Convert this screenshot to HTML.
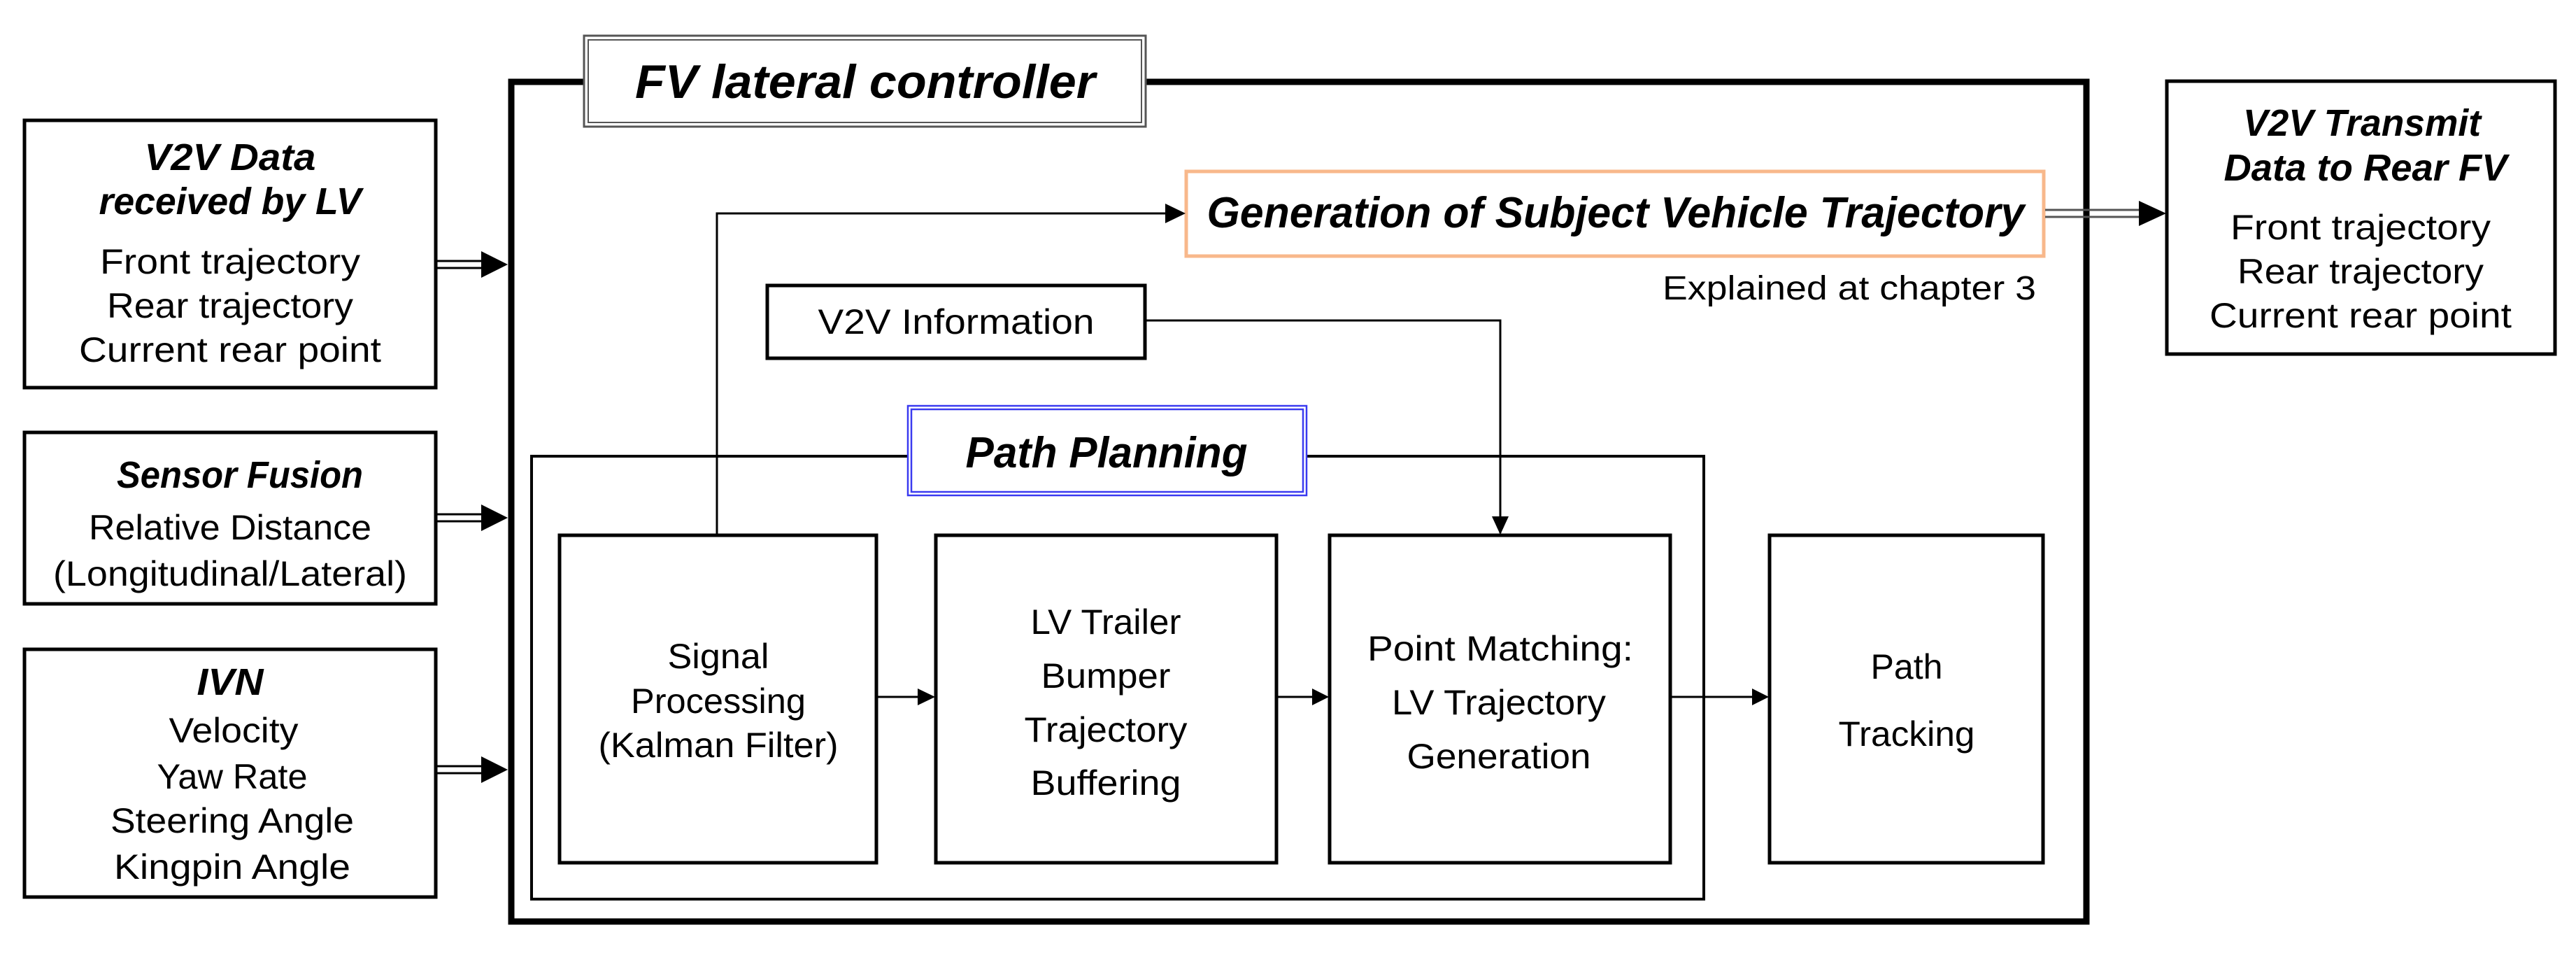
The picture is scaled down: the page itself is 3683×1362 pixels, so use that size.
<!DOCTYPE html>
<html><head><meta charset="utf-8"><style>
html,body{margin:0;padding:0;background:#fff;}
svg{display:block;}
text{font-family:"Liberation Sans","DejaVu Sans",sans-serif;fill:#000;}
.r{font-size:50px;}
.b{font-size:54px;font-weight:bold;font-style:italic;}
</style></head><body>
<svg width="3683" height="1362" viewBox="0 0 3683 1362" xmlns="http://www.w3.org/2000/svg">
<defs>
<marker id="ah" markerWidth="10" markerHeight="10" refX="9" refY="5" orient="auto" markerUnits="userSpaceOnUse" viewBox="0 0 10 10"><path d="M0,0 L10,5 L0,10 z" fill="#000"/></marker>
</defs>
<!-- outer controller -->
<rect x="731" y="117" width="2252" height="1200" fill="none" stroke="#000" stroke-width="9"/>
<!-- title box -->
<rect x="835" y="51" width="803" height="130" fill="#fff" stroke="#555" stroke-width="3"/>
<rect x="841" y="57" width="791" height="118" fill="none" stroke="#555" stroke-width="2"/>
<text class="b" x="1237" y="140" text-anchor="middle" font-size="68" style="font-size:68px" textLength="658" lengthAdjust="spacingAndGlyphs">FV lateral controller</text>

<!-- left boxes -->
<rect x="35" y="172" width="588" height="382" fill="none" stroke="#000" stroke-width="5"/>
<text class="b" x="329" y="243" text-anchor="middle" textLength="245" lengthAdjust="spacingAndGlyphs">V2V Data</text>
<text class="b" x="329" y="306" text-anchor="middle" textLength="375" lengthAdjust="spacingAndGlyphs">received by LV</text>
<text class="r" x="329" y="391" text-anchor="middle" textLength="372" lengthAdjust="spacingAndGlyphs">Front trajectory</text>
<text class="r" x="329" y="454" text-anchor="middle" textLength="352" lengthAdjust="spacingAndGlyphs">Rear trajectory</text>
<text class="r" x="329" y="517" text-anchor="middle" textLength="432" lengthAdjust="spacingAndGlyphs">Current rear point</text>

<rect x="35" y="618" width="588" height="245" fill="none" stroke="#000" stroke-width="5"/>
<text class="b" x="343" y="697" text-anchor="middle" textLength="352" lengthAdjust="spacingAndGlyphs">Sensor Fusion</text>
<text class="r" x="329" y="771" text-anchor="middle" textLength="404" lengthAdjust="spacingAndGlyphs">Relative Distance</text>
<text class="r" x="329" y="837" text-anchor="middle" textLength="506" lengthAdjust="spacingAndGlyphs">(Longitudinal/Lateral)</text>

<rect x="35" y="928" width="588" height="354" fill="none" stroke="#000" stroke-width="5"/>
<text class="b" x="329" y="993" text-anchor="middle" textLength="95" lengthAdjust="spacingAndGlyphs">IVN</text>
<text class="r" x="334" y="1061" text-anchor="middle" textLength="185" lengthAdjust="spacingAndGlyphs">Velocity</text>
<text class="r" x="332" y="1127" text-anchor="middle" textLength="215" lengthAdjust="spacingAndGlyphs">Yaw Rate</text>
<text class="r" x="332" y="1190" text-anchor="middle" textLength="348" lengthAdjust="spacingAndGlyphs">Steering Angle</text>
<text class="r" x="332" y="1256" text-anchor="middle" textLength="338" lengthAdjust="spacingAndGlyphs">Kingpin Angle</text>

<!-- double arrows in -->
<g stroke="#000" stroke-width="3">
<line x1="624" y1="373" x2="690" y2="373"/><line x1="624" y1="383" x2="690" y2="383"/>
<line x1="624" y1="735" x2="690" y2="735"/><line x1="624" y1="745" x2="690" y2="745"/>
<line x1="624" y1="1095" x2="690" y2="1095"/><line x1="624" y1="1105" x2="690" y2="1105"/>
</g>
<path d="M688,359 L726,378 L688,397 z" fill="#000"/>
<path d="M688,721 L726,740 L688,759 z" fill="#000"/>
<path d="M688,1081 L726,1100 L688,1119 z" fill="#000"/>

<!-- generation box -->
<rect x="1696" y="245" width="1226" height="121" fill="#fff" stroke="#f8b88b" stroke-width="5"/>
<text class="b" x="2310" y="325" text-anchor="middle" style="font-size:62px" textLength="1169" lengthAdjust="spacingAndGlyphs">Generation of Subject Vehicle Trajectory</text>
<text class="r" x="2911" y="428" text-anchor="end" style="font-size:48px" textLength="534" lengthAdjust="spacingAndGlyphs">Explained at chapter 3</text>

<!-- output double arrow -->
<g stroke="#555" stroke-width="3">
<line x1="2924" y1="300" x2="3060" y2="300"/><line x1="2924" y1="310" x2="3060" y2="310"/>
</g>
<path d="M3058,287 L3097,305 L3058,323 z" fill="#000"/>

<!-- right box -->
<rect x="3098" y="116" width="555" height="390" fill="none" stroke="#000" stroke-width="5"/>
<text class="b" x="3377" y="194" text-anchor="middle" textLength="340" lengthAdjust="spacingAndGlyphs">V2V Transmit</text>
<text class="b" x="3382" y="258" text-anchor="middle" textLength="405" lengthAdjust="spacingAndGlyphs">Data to Rear FV</text>
<text class="r" x="3375" y="342" text-anchor="middle" textLength="372" lengthAdjust="spacingAndGlyphs">Front trajectory</text>
<text class="r" x="3375" y="405" text-anchor="middle" textLength="352" lengthAdjust="spacingAndGlyphs">Rear trajectory</text>
<text class="r" x="3375" y="468" text-anchor="middle" textLength="432" lengthAdjust="spacingAndGlyphs">Current rear point</text>

<!-- V2V information -->
<rect x="1097" y="408" width="540" height="104" fill="none" stroke="#000" stroke-width="5"/>
<text class="r" x="1367" y="477" text-anchor="middle" textLength="395" lengthAdjust="spacingAndGlyphs">V2V Information</text>
<polyline points="1637,458 2145,458 2145,762" fill="none" stroke="#000" stroke-width="3" marker-end="url(#ah)"/>
<path d="M2133,738 L2145,764 L2157,738 z" fill="#000"/>

<!-- path planning -->
<rect x="760" y="652" width="1676" height="633" fill="none" stroke="#000" stroke-width="4"/>
<rect x="1298" y="580" width="570" height="128" fill="#fff" stroke="#3a3af0" stroke-width="2.5"/>
<rect x="1303" y="585" width="560" height="118" fill="none" stroke="#3a3af0" stroke-width="2.5"/>
<text class="b" x="1582" y="668" text-anchor="middle" style="font-size:62px" textLength="403" lengthAdjust="spacingAndGlyphs">Path Planning</text>

<!-- signal up arrow to generation -->
<polyline points="1025,764 1025,305 1670,305" fill="none" stroke="#000" stroke-width="3"/>
<path d="M1666,291 L1695,305 L1666,319 z" fill="#000"/>

<!-- inner boxes -->
<rect x="800" y="765" width="453" height="468" fill="#fff" stroke="#000" stroke-width="5"/>
<text class="r" x="1027" y="955" text-anchor="middle" textLength="145" lengthAdjust="spacingAndGlyphs">Signal</text>
<text class="r" x="1027" y="1019" text-anchor="middle" textLength="250" lengthAdjust="spacingAndGlyphs">Processing</text>
<text class="r" x="1027" y="1082" text-anchor="middle" textLength="343" lengthAdjust="spacingAndGlyphs">(Kalman Filter)</text>

<rect x="1338" y="765" width="487" height="468" fill="none" stroke="#000" stroke-width="5"/>
<text class="r" x="1581" y="906" text-anchor="middle" textLength="215" lengthAdjust="spacingAndGlyphs">LV Trailer</text>
<text class="r" x="1581" y="983" text-anchor="middle" textLength="185" lengthAdjust="spacingAndGlyphs">Bumper</text>
<text class="r" x="1581" y="1060" text-anchor="middle" textLength="233" lengthAdjust="spacingAndGlyphs">Trajectory</text>
<text class="r" x="1581" y="1136" text-anchor="middle" textLength="215" lengthAdjust="spacingAndGlyphs">Buffering</text>

<rect x="1901" y="765" width="487" height="468" fill="none" stroke="#000" stroke-width="5"/>
<text class="r" x="2145" y="944" text-anchor="middle" textLength="380" lengthAdjust="spacingAndGlyphs">Point Matching:</text>
<text class="r" x="2143" y="1021" text-anchor="middle" textLength="306" lengthAdjust="spacingAndGlyphs">LV Trajectory</text>
<text class="r" x="2143" y="1098" text-anchor="middle" textLength="263" lengthAdjust="spacingAndGlyphs">Generation</text>

<rect x="2530" y="765" width="391" height="468" fill="none" stroke="#000" stroke-width="5"/>
<text class="r" x="2726" y="970" text-anchor="middle" textLength="103" lengthAdjust="spacingAndGlyphs">Path</text>
<text class="r" x="2726" y="1066" text-anchor="middle" textLength="195" lengthAdjust="spacingAndGlyphs">Tracking</text>

<!-- horizontal arrows -->
<g stroke="#000" stroke-width="3">
<line x1="1254" y1="996" x2="1320" y2="996"/>
<line x1="1826" y1="996" x2="1884" y2="996"/>
<line x1="2389" y1="996" x2="2512" y2="996"/>
</g>
<path d="M1312,984 L1337,996 L1312,1008 z" fill="#000"/>
<path d="M1876,984 L1900,996 L1876,1008 z" fill="#000"/>
<path d="M2505,984 L2529,996 L2505,1008 z" fill="#000"/>
</svg>
</body></html>
